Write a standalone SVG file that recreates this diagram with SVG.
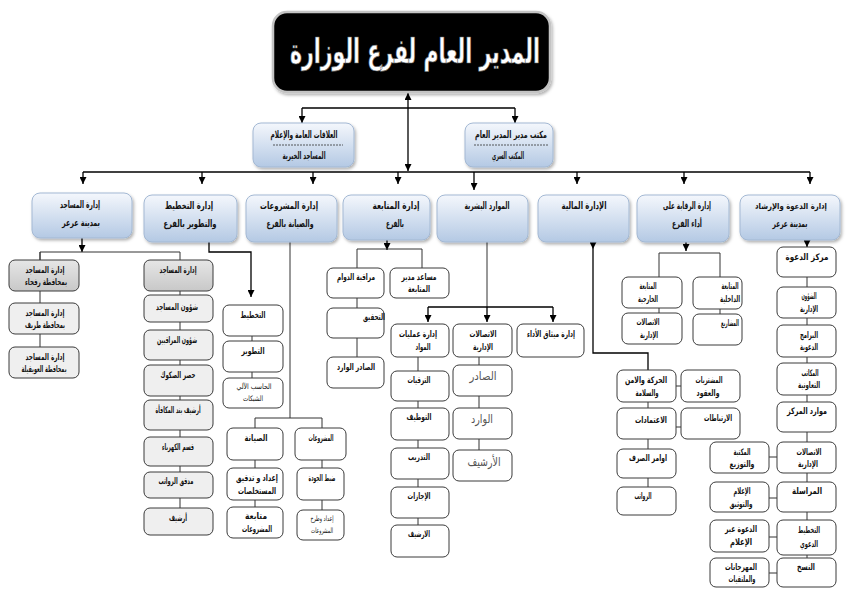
<svg xmlns="http://www.w3.org/2000/svg" width="849" height="598" viewBox="0 0 849 598">
<defs>
<linearGradient id="gBlue" x1="0" y1="0" x2="0" y2="1">
<stop offset="0" stop-color="#f4f7fc"/>
<stop offset="1" stop-color="#b4c9e4"/>
</linearGradient>
<linearGradient id="gGray" x1="0" y1="0" x2="0" y2="1">
<stop offset="0" stop-color="#e6e6e6"/>
<stop offset="1" stop-color="#c8c8c8"/>
</linearGradient>
<filter id="sh" x="-10%" y="-10%" width="130%" height="140%">
<feDropShadow dx="1.5" dy="2" stdDeviation="1.5" flood-color="#000" flood-opacity="0.3"/>
</filter>
<marker id="ar" viewBox="0 0 10 10" refX="10" refY="5" markerWidth="7" markerHeight="7" markerUnits="userSpaceOnUse" orient="auto-start-reverse">
<path d="M0,0 L10,5 L0,10 z" fill="#000"/>
</marker>
<style>
.blue{fill:url(#gBlue);stroke:#a3b8d3;stroke-width:1;filter:url(#sh)}
.sub{fill:#fff;stroke:#3a3a3a;stroke-width:1}
.gray{fill:url(#gGray);stroke:#3a3a3a;stroke-width:1}
.lg{fill:#efefef;stroke:#3a3a3a;stroke-width:1}
.c{fill:none;stroke:#000;stroke-width:1.3}
.cs{fill:none;stroke:#333;stroke-width:1}
.a{marker-end:url(#ar)}
text{font-family:"DejaVu Sans",sans-serif;font-weight:bold;text-anchor:middle;fill:#111}
.h{font-size:10px}
.t{font-size:9px}
.sm{font-size:7.5px;font-weight:normal}
.lt{font-size:12px;font-weight:normal;fill:#555}
.sep{stroke:#333;stroke-width:0.8;stroke-dasharray:2,1}
</style>
</defs>
<rect width="849" height="598" fill="#fff"/>

<g id="connectors">
<line class="c" x1="408" y1="93" x2="408" y2="171" marker-start="url(#ar)" marker-end="url(#ar)"/>
<path class="c" d="M302,108 H515"/>
<line class="c a" x1="302" y1="108" x2="302" y2="123"/>
<line class="c a" x1="515" y1="108" x2="515" y2="123"/>
<path class="c" d="M83,172 H810"/>
<line class="c a" x1="83" y1="172" x2="83" y2="184"/>
<line class="c a" x1="202" y1="172" x2="202" y2="184"/>
<line class="c a" x1="313" y1="172" x2="313" y2="184"/>
<line class="c a" x1="398" y1="172" x2="398" y2="184"/>
<line class="c a" x1="474" y1="172" x2="474" y2="190"/>
<line class="c a" x1="577" y1="172" x2="577" y2="184"/>
<line class="c a" x1="684" y1="172" x2="684" y2="184"/>
<line class="c a" x1="810" y1="172" x2="810" y2="184"/>
<line class="c a" x1="82" y1="238" x2="82" y2="252"/>
<path class="cs" d="M40,260 V252 H180 V520"/>
<path class="cs" d="M40,252 V362"/>
<path class="c a" d="M209,242 V252 H251 V297"/>
<path class="cs" d="M252,336 V390"/>
<path class="cs" d="M290,242 V418"/>
<path class="cs" d="M255,520 V418 H322 V525"/>
<line class="c a" x1="387" y1="240" x2="387" y2="250"/>
<path class="cs" d="M357,370 V249 H422 V268"/>
<path class="cs" d="M487,242 V307"/>
<path class="c" d="M428,307 H553"/>
<line class="c a" x1="428" y1="307" x2="428" y2="322"/>
<line class="c a" x1="487" y1="307" x2="487" y2="322"/>
<line class="c a" x1="553" y1="307" x2="553" y2="322"/>
<path class="cs" d="M418,357 V540"/>
<path class="cs" d="M479,357 V465"/>
<line class="c a" x1="593" y1="242" x2="593" y2="249"/>
<path class="c" d="M593,249 V353 H648 V370"/>
<path class="cs" d="M648,370 V500"/>
<path class="cs" d="M676,386 H681 M676,427 H681"/>
<line class="c a" x1="686" y1="242" x2="686" y2="251"/>
<path class="cs" d="M659,330 V253 H720 V330"/>
<line class="c a" x1="807" y1="238" x2="807" y2="247"/>
<path class="cs" d="M807,247 V572"/>
<path class="cs" d="M769,457 H777 M769,498 H777 M769,537 H777 M769,573 H777"/>
</g>

<g id="title">
<rect x="273" y="12" width="277" height="80" rx="14" fill="#000" stroke="#c4c4c4" stroke-width="2.5" filter="url(#sh)"/>
<text x="415" y="63" textLength="250" lengthAdjust="spacingAndGlyphs" style="font-size:34px;fill:#fff;stroke:#666;stroke-width:0.7">المدير العام لفرع الوزارة</text>
</g>

<g id="n-pr"><rect class="blue" x="253" y="123" width="101" height="44" rx="8"/>
<text class="h" x="304" y="138" textLength="67" lengthAdjust="spacingAndGlyphs">العلاقات العامة والإعلام</text>
<line class="sep" x1="273" y1="145" x2="343" y2="145"/>
<text class="h" x="304" y="159" textLength="43" lengthAdjust="spacingAndGlyphs">المساجد الخيرية</text></g>
<g id="n-office"><rect class="blue" x="465" y="123" width="88" height="44" rx="8"/>
<text class="h" x="511" y="138" textLength="72" lengthAdjust="spacingAndGlyphs">مكتب مدير المدير العام</text>
<line class="sep" x1="474" y1="145" x2="549" y2="145"/>
<text class="h" x="508" y="159" textLength="32" lengthAdjust="spacingAndGlyphs">المكتب السري</text></g>

<g id="d-mosques"><rect class="blue" x="32" y="193" width="100" height="45" rx="8"/>
<text class="h" x="80" y="208" textLength="40" lengthAdjust="spacingAndGlyphs">إدارة المساجد</text><text class="h" x="81" y="226" textLength="38" lengthAdjust="spacingAndGlyphs">بمدينة عرعر</text></g>
<g id="d-planning"><rect class="blue" x="144" y="195" width="93" height="47" rx="8"/>
<text class="h" x="189" y="209" textLength="48" lengthAdjust="spacingAndGlyphs">إدارة التخطيط</text><text class="h" x="190" y="227" textLength="53" lengthAdjust="spacingAndGlyphs">والتطوير بالفرع</text></g>
<g id="d-projects"><rect class="blue" x="246" y="195" width="91" height="47" rx="8"/>
<text class="h" x="289" y="209" textLength="58" lengthAdjust="spacingAndGlyphs">إدارة المشروعات</text><text class="h" x="290" y="227" textLength="47" lengthAdjust="spacingAndGlyphs">والصيانة بالفرع</text></g>
<g id="d-followup"><rect class="blue" x="343" y="195" width="87" height="45" rx="8"/>
<text class="h" x="396" y="209" textLength="47" lengthAdjust="spacingAndGlyphs">إدارة المتابعة</text><text class="h" x="395" y="227" textLength="18" lengthAdjust="spacingAndGlyphs">بالفرع</text></g>
<g id="d-hr"><rect class="blue" x="437" y="195" width="91" height="47" rx="8"/>
<text class="h" x="487" y="209" textLength="45" lengthAdjust="spacingAndGlyphs">الموارد البشرية</text></g>
<g id="d-finance"><rect class="blue" x="538" y="195" width="91" height="47" rx="8"/>
<text class="h" x="584" y="209" textLength="45" lengthAdjust="spacingAndGlyphs">الإدارة المالية</text></g>
<g id="d-oversight"><rect class="blue" x="637" y="195" width="92" height="47" rx="8"/>
<text class="h" x="687" y="209" textLength="48" lengthAdjust="spacingAndGlyphs">إدارة الرقابة على</text><text class="h" x="687" y="227" textLength="30" lengthAdjust="spacingAndGlyphs">أداء الفرع</text></g>
<g id="d-dawah"><rect class="blue" x="740" y="195" width="100" height="45" rx="8"/>
<text class="h" x="791" y="209" textLength="72" lengthAdjust="spacingAndGlyphs" style="font-size:8.5px">إدارة الدعوة والإرشاد</text><text class="h" x="790" y="227" textLength="35" lengthAdjust="spacingAndGlyphs">بمدينة عرعر</text></g>

<g id="m-rafha"><rect class="gray" x="9" y="260" width="70" height="31" rx="6"/><text class="t" x="45" y="273" textLength="39" lengthAdjust="spacingAndGlyphs">إدارة المساجد</text><text class="t" x="46" y="285" textLength="42" lengthAdjust="spacingAndGlyphs">بمحافظة رفحاء</text></g>
<g id="m-turaif"><rect class="lg" x="9" y="303" width="70" height="31" rx="6"/><text class="t" x="45" y="316" textLength="39" lengthAdjust="spacingAndGlyphs">إدارة المساجد</text><text class="t" x="45" y="328" textLength="40" lengthAdjust="spacingAndGlyphs">بمحافظة طريف</text></g>
<g id="m-uwayqila"><rect class="lg" x="9" y="347" width="70" height="31" rx="6"/><text class="t" x="45" y="360" textLength="39" lengthAdjust="spacingAndGlyphs">إدارة المساجد</text><text class="t" x="44" y="372" textLength="45" lengthAdjust="spacingAndGlyphs">بمحافظة العويقيلة</text></g>
<g id="m-main"><rect class="gray" x="144" y="260" width="69" height="31" rx="6"/><text class="t" x="178" y="273" textLength="37" lengthAdjust="spacingAndGlyphs">إدارة المساجد</text></g>
<g id="m-affairs"><rect class="lg" x="144" y="295" width="69" height="27" rx="6"/><text class="t" x="177" y="310" textLength="42" lengthAdjust="spacingAndGlyphs">شؤون المساجد</text></g>
<g id="m-observers"><rect class="lg" x="144" y="330" width="69" height="30" rx="6"/><text class="t" x="177" y="343" textLength="40" lengthAdjust="spacingAndGlyphs">شؤون المراقبين</text></g>
<g id="m-deeds"><rect class="lg" x="144" y="365" width="69" height="31" rx="6"/><text class="t" x="178" y="378" textLength="35" lengthAdjust="spacingAndGlyphs">حصر الصكوك</text></g>
<g id="m-reward"><rect class="lg" x="144" y="400" width="69" height="30" rx="6"/><text class="t" x="178" y="413" textLength="45" lengthAdjust="spacingAndGlyphs">أرشيف بند المكافأة</text></g>
<g id="m-elec"><rect class="lg" x="144" y="437" width="69" height="29" rx="6"/><text class="t" x="178" y="450" textLength="32" lengthAdjust="spacingAndGlyphs">قسم الكهرباء</text></g>
<g id="m-salary"><rect class="lg" x="144" y="472" width="69" height="26" rx="6"/><text class="t" x="176" y="484" textLength="35" lengthAdjust="spacingAndGlyphs">مدقق الرواتب</text></g>
<g id="m-archive"><rect class="lg" x="144" y="508" width="69" height="27" rx="6"/><text class="t" x="178" y="521" textLength="18" lengthAdjust="spacingAndGlyphs">أرشيف</text></g>

<g id="p-plan"><rect class="sub" x="223" y="305" width="60" height="31" rx="6"/><text class="t" x="253" y="318" textLength="25" lengthAdjust="spacingAndGlyphs">التخطيط</text></g>
<g id="p-dev"><rect class="sub" x="223" y="341" width="60" height="31" rx="6"/><text class="t" x="253" y="354" textLength="23" lengthAdjust="spacingAndGlyphs">التطوير</text></g>
<g id="p-it"><rect class="sub" x="223" y="378" width="60" height="30" rx="6"/><text class="sm" x="254" y="389" textLength="35" lengthAdjust="spacingAndGlyphs">الحاسب الآلي</text><text class="sm" x="253" y="401" textLength="20" lengthAdjust="spacingAndGlyphs">الشبكات</text></g>

<g id="pr-maint"><rect class="sub" x="227" y="428" width="56" height="32" rx="6"/><text class="t" x="256" y="441" textLength="23" lengthAdjust="spacingAndGlyphs">الصيانة</text></g>
<g id="pr-proj"><rect class="sub" x="295" y="428" width="51" height="32" rx="6"/><text class="t" x="321" y="441" textLength="25" lengthAdjust="spacingAndGlyphs">المشروعات</text></g>
<g id="pr-extract"><rect class="sub" x="227" y="468" width="56" height="32" rx="6"/><text class="t" x="257" y="481" textLength="42" lengthAdjust="spacingAndGlyphs">إعداد و تدقيق</text><text class="t" x="257" y="494" textLength="38" lengthAdjust="spacingAndGlyphs">المستخلصات</text></g>
<g id="pr-quality"><rect class="sub" x="297" y="468" width="47" height="32" rx="6"/><text class="t" x="322" y="481" textLength="27" lengthAdjust="spacingAndGlyphs">ضبط الجودة</text></g>
<g id="pr-follow"><rect class="sub" x="227" y="507" width="56" height="31" rx="6"/><text class="t" x="256" y="519" textLength="22" lengthAdjust="spacingAndGlyphs">متابعة</text><text class="t" x="257" y="532" textLength="30" lengthAdjust="spacingAndGlyphs">المشروعات</text></g>
<g id="pr-tender"><rect class="sub" x="297" y="510" width="47" height="30" rx="6"/><text class="sm" x="322" y="521" textLength="23" lengthAdjust="spacingAndGlyphs">إعداد وطرح</text><text class="sm" x="322" y="533" textLength="22" lengthAdjust="spacingAndGlyphs">المشروعات</text></g>

<g id="f-attend"><rect class="sub" x="327" y="268" width="57" height="30" rx="6"/><text class="t" x="356" y="280" textLength="38" lengthAdjust="spacingAndGlyphs">مراقبة الدوام</text></g>
<g id="f-assist"><rect class="sub" x="390" y="268" width="59" height="30" rx="6"/><text class="t" x="419" y="280" textLength="35" lengthAdjust="spacingAndGlyphs">مساعد مدير</text><text class="t" x="419" y="292" textLength="22" lengthAdjust="spacingAndGlyphs">المتابعة</text></g>
<g id="f-invest"><rect class="sub" x="327" y="308" width="57" height="30" rx="6"/><text class="t" x="374" y="320" textLength="22" lengthAdjust="spacingAndGlyphs">التحقيق</text></g>
<g id="f-mail"><rect class="sub" x="327" y="357" width="57" height="31" rx="6"/><text class="t" x="356" y="370" textLength="38" lengthAdjust="spacingAndGlyphs">الصادر الوارد</text></g>

<g id="h-ops"><rect class="sub" x="391" y="324" width="58" height="33" rx="6"/><text class="t" x="418" y="337" textLength="38" lengthAdjust="spacingAndGlyphs">إدارة عمليات</text><text class="t" x="423" y="350" textLength="15" lengthAdjust="spacingAndGlyphs">المواد</text></g>
<g id="h-comm"><rect class="sub" x="453" y="324" width="59" height="33" rx="6"/><text class="t" x="483" y="337" textLength="27" lengthAdjust="spacingAndGlyphs">الاتصالات</text><text class="t" x="483" y="350" textLength="20" lengthAdjust="spacingAndGlyphs">الإدارية</text></g>
<g id="h-perf"><rect class="sub" x="517" y="324" width="67" height="33" rx="6"/><text class="t" x="551" y="337" textLength="48" lengthAdjust="spacingAndGlyphs">إدارة ميثاق الأداء</text></g>
<g id="h-promo"><rect class="sub" x="391" y="371" width="58" height="30" rx="6"/><text class="t" x="419" y="383" textLength="23" lengthAdjust="spacingAndGlyphs">الترقيات</text></g>
<g id="h-hire"><rect class="sub" x="391" y="408" width="58" height="32" rx="6"/><text class="t" x="419" y="420" textLength="25" lengthAdjust="spacingAndGlyphs">التوظيف</text></g>
<g id="h-train"><rect class="sub" x="391" y="448" width="58" height="31" rx="6"/><text class="t" x="419" y="460" textLength="22" lengthAdjust="spacingAndGlyphs">التدريب</text></g>
<g id="h-leave"><rect class="sub" x="391" y="487" width="58" height="31" rx="6"/><text class="t" x="419" y="499" textLength="23" lengthAdjust="spacingAndGlyphs">الإجازات</text></g>
<g id="h-arch"><rect class="sub" x="391" y="525" width="58" height="32" rx="6"/><text class="t" x="419" y="537" textLength="22" lengthAdjust="spacingAndGlyphs">الارشيف</text></g>
<g id="h-out"><rect class="sub" x="453" y="365" width="59" height="31" rx="6"/><text class="lt" x="483" y="380" textLength="27" lengthAdjust="spacingAndGlyphs">الصادر</text></g>
<g id="h-in"><rect class="sub" x="453" y="408" width="59" height="31" rx="6"/><text class="lt" x="482" y="423" textLength="22" lengthAdjust="spacingAndGlyphs">الوارد</text></g>
<g id="h-arch2"><rect class="sub" x="453" y="450" width="59" height="31" rx="6"/><text class="lt" x="484" y="466" textLength="33" lengthAdjust="spacingAndGlyphs">الأرشيف</text></g>

<g id="fi-safety"><rect class="sub" x="617" y="370" width="59" height="32" rx="6"/><text class="t" x="646" y="383" textLength="42" lengthAdjust="spacingAndGlyphs">الحركة والامن</text><text class="t" x="647" y="396" textLength="23" lengthAdjust="spacingAndGlyphs">والسلامة</text></g>
<g id="fi-purch"><rect class="sub" x="681" y="370" width="59" height="32" rx="6"/><text class="t" x="709" y="383" textLength="27" lengthAdjust="spacingAndGlyphs">المشتريات</text><text class="t" x="708" y="396" textLength="23" lengthAdjust="spacingAndGlyphs">والعقود</text></g>
<g id="fi-approp"><rect class="sub" x="617" y="408" width="59" height="31" rx="6"/><text class="t" x="651" y="423" textLength="32" lengthAdjust="spacingAndGlyphs">الاعتمادات</text></g>
<g id="fi-commit"><rect class="sub" x="681" y="408" width="59" height="31" rx="6"/><text class="t" x="718" y="421" textLength="28" lengthAdjust="spacingAndGlyphs">الارتباطات</text></g>
<g id="fi-orders"><rect class="sub" x="617" y="449" width="59" height="29" rx="6"/><text class="t" x="648" y="461" textLength="38" lengthAdjust="spacingAndGlyphs">اوامر الصرف</text></g>
<g id="fi-salary"><rect class="sub" x="617" y="487" width="59" height="28" rx="6"/><text class="t" x="643" y="499" textLength="17" lengthAdjust="spacingAndGlyphs">الرواتب</text></g>

<g id="o-ext"><rect class="sub" x="622" y="277" width="60" height="31" rx="6"/><text class="t" x="648" y="289" textLength="17" lengthAdjust="spacingAndGlyphs">المتابعة</text><text class="t" x="648" y="302" textLength="20" lengthAdjust="spacingAndGlyphs">الخارجية</text></g>
<g id="o-int"><rect class="sub" x="693" y="277" width="49" height="32" rx="6"/><text class="t" x="730" y="289" textLength="17" lengthAdjust="spacingAndGlyphs">المتابعة</text><text class="t" x="730" y="302" textLength="20" lengthAdjust="spacingAndGlyphs">الداخلية</text></g>
<g id="o-comm"><rect class="sub" x="622" y="313" width="60" height="31" rx="6"/><text class="t" x="648" y="325" textLength="23" lengthAdjust="spacingAndGlyphs">الاتصالات</text><text class="t" x="649" y="338" textLength="18" lengthAdjust="spacingAndGlyphs">الإدارية</text></g>
<g id="o-proj"><rect class="sub" x="693" y="314" width="49" height="31" rx="6"/><text class="t" x="730" y="326" textLength="18" lengthAdjust="spacingAndGlyphs">المشاريع</text></g>

<g id="w-center"><rect class="sub" x="777" y="247" width="59" height="30" rx="6"/><text class="t" x="807" y="260" textLength="43" lengthAdjust="spacingAndGlyphs">مركز الدعوة</text></g>
<g id="w-admin"><rect class="sub" x="777" y="287" width="59" height="31" rx="6"/><text class="t" x="809" y="299" textLength="15" lengthAdjust="spacingAndGlyphs">الشؤون</text><text class="t" x="809" y="312" textLength="18" lengthAdjust="spacingAndGlyphs">الإدارية</text></g>
<g id="w-prog"><rect class="sub" x="777" y="325" width="59" height="32" rx="6"/><text class="t" x="809" y="338" textLength="18" lengthAdjust="spacingAndGlyphs">البرامج</text><text class="t" x="809" y="350" textLength="18" lengthAdjust="spacingAndGlyphs">الدعوية</text></g>
<g id="w-coop"><rect class="sub" x="777" y="363" width="59" height="32" rx="6"/><text class="t" x="810" y="376" textLength="17" lengthAdjust="spacingAndGlyphs">المكاتب</text><text class="t" x="809" y="388" textLength="22" lengthAdjust="spacingAndGlyphs">التعاونية</text></g>
<g id="w-res"><rect class="sub" x="777" y="402" width="59" height="30" rx="6"/><text class="t" x="807" y="414" textLength="40" lengthAdjust="spacingAndGlyphs">موارد المركز</text></g>
<g id="w-comm"><rect class="sub" x="777" y="442" width="59" height="31" rx="6"/><text class="t" x="809" y="455" textLength="25" lengthAdjust="spacingAndGlyphs">الاتصالات</text><text class="t" x="808" y="467" textLength="20" lengthAdjust="spacingAndGlyphs">الإدارية</text></g>
<g id="w-corr"><rect class="sub" x="777" y="482" width="59" height="30" rx="6"/><text class="t" x="807" y="494" textLength="30" lengthAdjust="spacingAndGlyphs">المراسلة</text></g>
<g id="w-plan"><rect class="sub" x="777" y="520" width="59" height="35" rx="6"/><text class="t" x="809" y="533" textLength="22" lengthAdjust="spacingAndGlyphs">التخطيط</text><text class="t" x="809" y="547" textLength="18" lengthAdjust="spacingAndGlyphs">الدعوي</text></g>
<g id="w-copy"><rect class="sub" x="777" y="558" width="59" height="29" rx="6"/><text class="t" x="806" y="570" textLength="18" lengthAdjust="spacingAndGlyphs">النسخ</text></g>
<g id="w-lib"><rect class="sub" x="710" y="442" width="59" height="31" rx="6"/><text class="t" x="742" y="455" textLength="17" lengthAdjust="spacingAndGlyphs">المكتبة</text><text class="t" x="742" y="467" textLength="25" lengthAdjust="spacingAndGlyphs">والتوزيع</text></g>
<g id="w-media"><rect class="sub" x="710" y="482" width="59" height="30" rx="6"/><text class="t" x="742" y="494" textLength="17" lengthAdjust="spacingAndGlyphs">الإعلام</text><text class="t" x="741" y="507" textLength="23" lengthAdjust="spacingAndGlyphs">والتوثيق</text></g>
<g id="w-dmedia"><rect class="sub" x="710" y="520" width="59" height="32" rx="6"/><text class="t" x="741" y="532" textLength="32" lengthAdjust="spacingAndGlyphs">الدعوة عبر</text><text class="t" x="741" y="545" textLength="22" lengthAdjust="spacingAndGlyphs">الإعلام</text></g>
<g id="w-fest"><rect class="sub" x="710" y="558" width="59" height="29" rx="6"/><text class="t" x="741" y="570" textLength="32" lengthAdjust="spacingAndGlyphs">المهرجانات</text><text class="t" x="742" y="582" textLength="27" lengthAdjust="spacingAndGlyphs">والملتقيات</text></g>
</svg>
